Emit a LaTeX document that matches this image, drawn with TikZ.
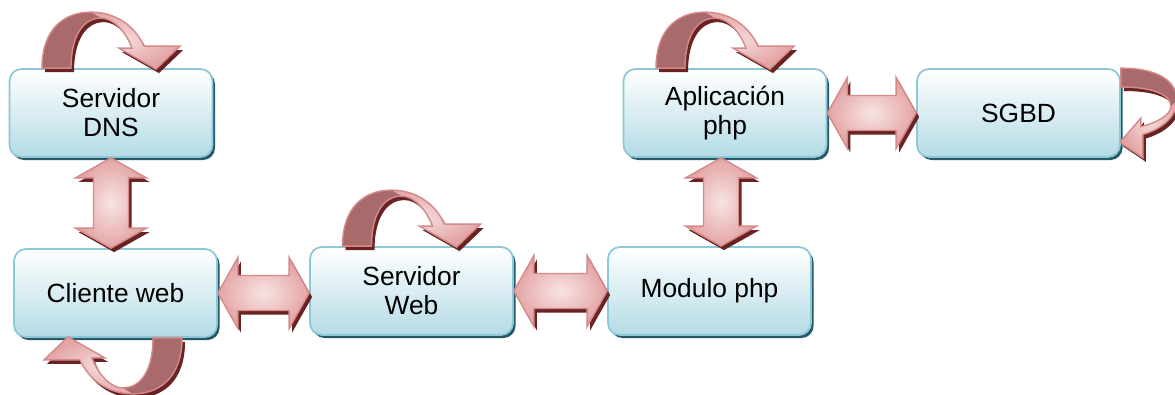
\documentclass[tikz,border=0pt]{standalone}
\usepackage{fontspec}
\setmainfont{Liberation Sans}
\usetikzlibrary{calc,shadows}
\definecolor{boxedge}{RGB}{140,200,215}
\definecolor{boxlow}{RGB}{180,219,229}
\definecolor{boxshadow}{RGB}{38,88,102}
\definecolor{rosehi}{RGB}{248,228,228}
\definecolor{roselo}{RGB}{228,164,164}
\definecolor{roseedge}{RGB}{212,138,138}
\definecolor{rosedark}{RGB}{168,106,106}
\definecolor{roseshadow}{RGB}{105,35,35}

% block arrow sizes
\newcommand{\headlen}{0.4}
\newcommand{\headhw}{0.71}
\newcommand{\shafthw}{0.35}

% horizontal double arrow, tip to tip
\newcommand{\harrow}[2]{%
  \coordinate (ha) at (#1);
  \coordinate (hb) at (#1 -| #2);
  \shade[dblarrow] (ha) -- ($(ha)+(\headlen,\headhw)$) -- ($(ha)+(\headlen,\shafthw)$)
    -- ($(hb)+(-\headlen,\shafthw)$) -- ($(hb)+(-\headlen,\headhw)$) -- (hb)
    -- ($(hb)+(-\headlen,-\headhw)$) -- ($(hb)+(-\headlen,-\shafthw)$)
    -- ($(ha)+(\headlen,-\shafthw)$) -- ($(ha)+(\headlen,-\headhw)$) -- cycle;}

% vertical double arrow, tip to tip
\newcommand{\varrow}[2]{%
  \coordinate (va) at (#1);
  \coordinate (vb) at (#1 |- #2);
  \shade[dblarrow] (va) -- ($(va)+(\headhw,-\headlen)$) -- ($(va)+(\shafthw,-\headlen)$)
    -- ($(vb)+(\shafthw,\headlen)$) -- ($(vb)+(\headhw,\headlen)$) -- (vb)
    -- ($(vb)+(-\headhw,\headlen)$) -- ($(vb)+(-\shafthw,\headlen)$)
    -- ($(va)+(-\shafthw,-\headlen)$) -- ($(va)+(-\headhw,-\headlen)$) -- cycle;}

% curved arrow coming back to the same box (units of 0.02cm)
\newcommand{\looppath}{(-69,0) .. controls (-69,38) and (-48,56) .. (-20,56)
  .. controls (5,56) and (24,42) .. (33,22) -- (69,22) -- (45,-1) -- (8,20) -- (21,20)
  .. controls (15,36) and (3,50) .. (-10,50) .. controls (-28,50) and (-40,32) .. (-40,0) -- cycle}
\newcommand{\loopback}{(-69,0) .. controls (-69,38) and (-48,56) .. (-20,56) -- (-10,50)
  .. controls (-28,50) and (-40,32) .. (-40,0) -- cycle}
\newcommand{\selfloop}[2]{%
  \begin{scope}[shift={(#1)}, shift={(0.06,-0.08)}, #2, x=0.02cm, y=0.02cm]
    \fill[roseshadow] \looppath;
  \end{scope}
  \begin{scope}[shift={(#1)}, #2, x=0.02cm, y=0.02cm]
    \shade[inner color=rosehi, outer color=roselo] \looppath;
    \fill[rosedark] \loopback;
    \draw[roseedge, line width=0.8pt] \looppath;
  \end{scope}}

\begin{document}
\begin{tikzpicture}[
    box/.style={rectangle, draw=boxedge, line width=1pt, top color=white, bottom color=boxlow,
      rounded corners=0.24cm, minimum width=4.06cm, minimum height=1.76cm, align=center,
      font=\fontsize{15}{16.5}\selectfont,
      drop shadow={shadow xshift=0.05cm, shadow yshift=-0.06cm, fill=boxshadow, opacity=1}},
    dblarrow/.style={draw=roseedge, line width=0.8pt, inner color=rosehi, outer color=roselo,
      drop shadow={shadow xshift=0.06cm, shadow yshift=-0.08cm, fill=roseshadow, opacity=1}}
  ]
    \useasboundingbox (0, 0) rectangle (23.5, -7.88);

    \node[box] at (2.22, -2.26)  (dns)     {Servidor\\DNS};
    \node[box] at (2.31, -5.86)  (cliente) {Cliente web};
    \node[box] at (8.23, -5.82)  (web)     {Servidor\\Web};
    \node[box] at (14.19, -5.82) (modulo)  {Modulo php};
    \node[box] at (14.50, -2.26) (app)     {Aplicación\\php};
    \node[box] at (20.37, -2.26) (sgbd)    {SGBD};

    \coordinate (appfoot) at ($(app.south)+(-0.08,0)$);
    \coordinate (clientefoot) at ($(cliente.south)+(-0.05,0)$);

    \varrow{dns.south}{cliente.north}
    \harrow{cliente.east}{web.west}
    \harrow{web.east}{modulo.west}
    \varrow{appfoot}{modulo.north}
    \harrow{app.east}{sgbd.west}

    \selfloop{dns.north}{rotate=0}
    \selfloop{web.north}{rotate=0}
    \selfloop{app.north}{rotate=0}
    \selfloop{clientefoot}{rotate=180}
    \selfloop{sgbd.east}{rotate=-90, xscale=0.65}
  \end{tikzpicture}
\end{document}
